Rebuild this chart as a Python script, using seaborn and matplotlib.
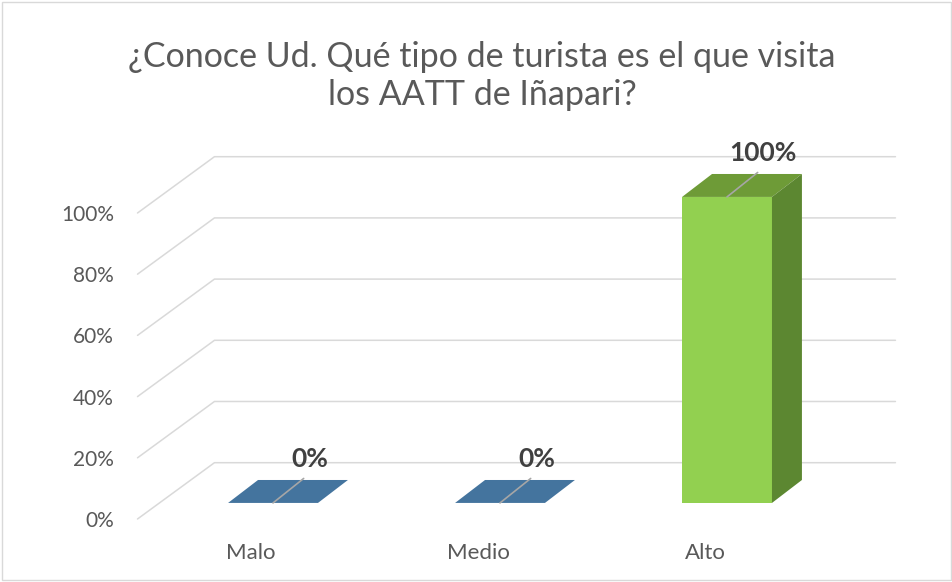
import matplotlib
matplotlib.use("Agg")
import matplotlib.pyplot as plt
import seaborn as sns
from matplotlib.patches import Polygon, Rectangle

# data
categories = ["Malo", "Medio", "Alto"]
values = [0, 0, 100]
value_labels = ["0%", "0%", "100%"]
y_ticks = [0, 20, 40, 60, 80, 100]
y_tick_labels = ["0%", "20%", "40%", "60%", "80%", "100%"]
title = "¿Conoce Ud. Qué tipo de turista es el que visita\nlos AATT de Iñapari?"

# colours per bar (front, top, side)
front_colors = ["#5B8DBE", "#5B8DBE", "#92D050"]
top_colors = ["#44749E", "#44749E", "#6E9B37"]
side_colors = ["#3A6590", "#3A6590", "#5C8731"]

# fake 3d geometry, in data units (x: category units, y: percent)
bar_shift = (0.097, 5.25)   # bars sit a bit behind the front plane
bar_depth = (0.132, 7.5)
wall = (0.339, 18.4)        # back wall offset

sns.set_style("white")
plt.rcParams["font.family"] = ["Lato", "DejaVu Sans"]

fig = plt.figure(figsize=(9.53, 5.82), dpi=100)
ax = fig.add_axes([137.5 / 953, 63 / 582, 681 / 953, 306 / 582])

sns.barplot(x=categories, y=values, hue=categories, palette=front_colors,
            width=0.396, saturation=1, legend=False, ax=ax, linewidth=0, zorder=3)

ax.set_xlim(-0.5, 2.5)
ax.set_ylim(0, 100)

# gridlines: diagonal from front plane to back wall, then along back wall
for v in y_ticks:
    ax.plot([-0.5, -0.5 + wall[0], 2.5 + wall[0]], [v, v + wall[1], v + wall[1]],
            color="#d9d9d9", lw=1.1, clip_on=False, zorder=0.5)

for i, p in enumerate(ax.patches[:len(categories)]):
    p.set_x(p.get_x() + bar_shift[0])
    p.set_y(p.get_y() + bar_shift[1])
    p.set_clip_on(False)
    x0, w = p.get_x(), p.get_width()
    x1 = x0 + w
    y0 = p.get_y()
    y1 = y0 + p.get_height()
    dx, dy = bar_depth
    top = Polygon([(x0, y1), (x1, y1), (x1 + dx, y1 + dy), (x0 + dx, y1 + dy)],
                  closed=True, facecolor=top_colors[i], edgecolor="none",
                  clip_on=False, zorder=3)
    ax.add_patch(top)
    if y1 > y0:
        side = Polygon([(x1, y0), (x1 + dx, y0 + dy), (x1 + dx, y1 + dy), (x1, y1)],
                       closed=True, facecolor=side_colors[i], edgecolor="none",
                       clip_on=False, zorder=3)
        ax.add_patch(side)
    # leader line and data label
    cx = x0 + w / 2
    ax.plot([cx, cx + 0.135], [y1, y1 + 8], color="#a6a6a6", lw=1.2,
            clip_on=False, zorder=4)
    ax.text(cx + 0.16, y1 + 14.5, value_labels[i], ha="center", va="center",
            fontsize=19, fontweight="bold", color="#404040", zorder=5)

ax.set_yticks(y_ticks, y_tick_labels)
ax.tick_params(axis="y", length=0, pad=17, labelsize=15, labelcolor="#595959")
ax.tick_params(axis="x", length=0, pad=17, labelsize=16, labelcolor="#595959")
ax.set_xlabel("")
ax.set_ylabel("")
ax.grid(False)
for s in ax.spines.values():
    s.set_visible(False)
ax.patch.set_visible(False)

fig.text(0.506, 1 - 76 / 582, title, ha="center", va="center",
         fontsize=24.5, color="#595959", linespacing=1.2)

fig.add_artist(Rectangle((0.002, 0.004), 0.996, 0.992, transform=fig.transFigure,
                         fill=False, edgecolor="#d9d9d9", lw=1))

fig.savefig("out.png", dpi=100)
